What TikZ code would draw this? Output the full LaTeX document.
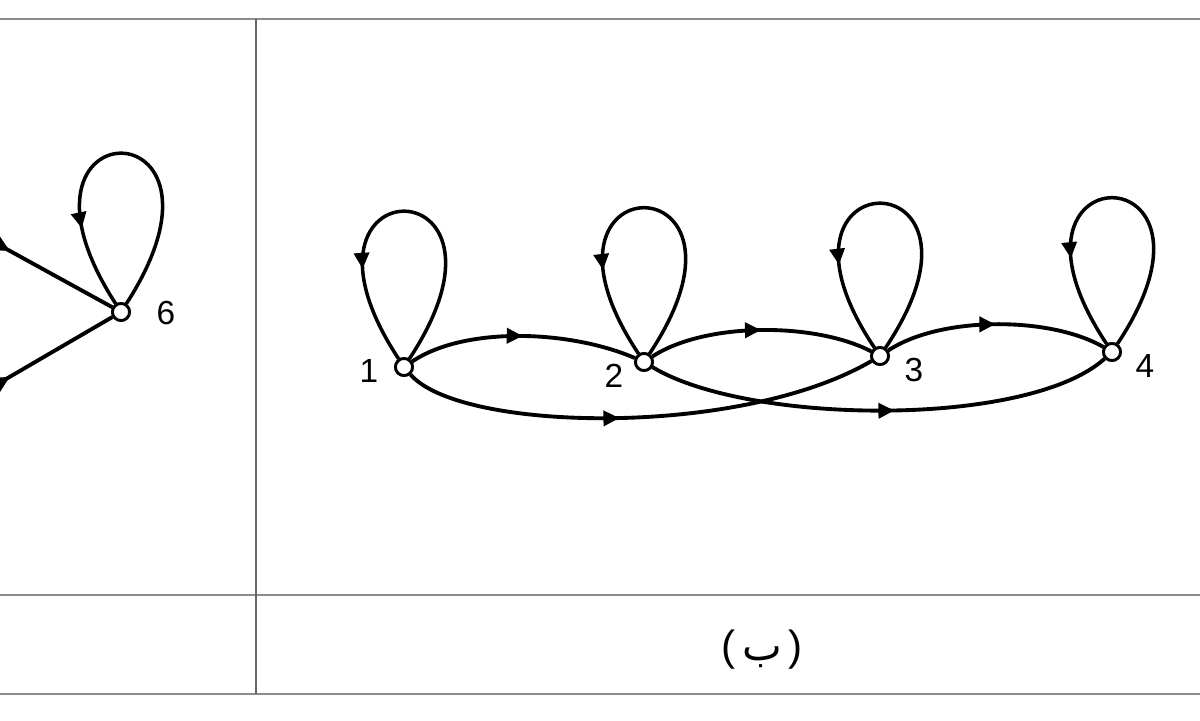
\documentclass[tikz,border=0pt]{standalone}
\usepackage{fontspec}
\setmainfont{Liberation Sans}
\newfontfamily\arabicfont[Script=Arabic]{DejaVu Sans}
\TeXXeTstate=1
\usetikzlibrary{arrows.meta,decorations.markings}
\begin{document}
\begin{tikzpicture}[x=0.02cm,y=-0.02cm,
  vtx/.style={circle,draw,fill=white,line width=1.6pt,inner sep=0pt,minimum size=0.34cm},
  edge/.style={line width=2.2pt},
  loopedge/.style={line width=2pt},
  midarrow/.style={postaction={decorate},decoration={markings,mark=at position #1 with {\arrow{Triangle[length=0.32cm,width=0.3cm]}}}},
  lbl/.style={font=\fontsize{19}{21}\selectfont,inner sep=0pt},
  framel/.style={draw=black!45,line width=1.4pt},
  vframel/.style={draw=black!60,line width=1.2pt}]
\useasboundingbox (0,0) rectangle (1200,720);
\clip (0,0) rectangle (1200,720);
\fill[white] (0,0) rectangle (1200,720);
% frame
\draw[framel] (0,19) -- (1200,19);
\draw[framel] (0,595) -- (1200,595);
\draw[framel] (0,694) -- (1200,694);
\draw[vframel] (256,19) -- (256,694);
% nodes
\node[vtx] (n6) at (121,312) {};
\node[vtx] (n1) at (404,367) {};
\node[vtx] (n2) at (644,362) {};
\node[vtx] (n3) at (880,356) {};
\node[vtx] (n4) at (1112,352) {};
\node[lbl] (t6) at (166,313) {6};
\node[lbl] (t1) at (369,371) {1};
\node[lbl] (t2) at (614,376) {2};
\node[lbl] (t3) at (914,370) {3};
\node[lbl] (t4) at (1145,366) {4};
% left partial edges
\coordinate (l1) at (-30,229);
\coordinate (l2) at (-30,400);
\draw[edge,midarrow=0.28] (l1) -- (n6);
\draw[edge,midarrow=0.28] (l2) -- (n6);
% loops
\draw[loopedge,midarrow=0.77] (n6) .. controls +(135,-209) and +(-135,-209) .. (n6);
\draw[loopedge,midarrow=0.725] (n1) .. controls +(135,-205) and +(-135,-205) .. (n1);
\draw[loopedge,midarrow=0.74] (n2) .. controls +(135,-203) and +(-135,-203) .. (n2);
\draw[loopedge,midarrow=0.74] (n3) .. controls +(135,-201) and +(-135,-201) .. (n3);
\draw[loopedge,midarrow=0.735] (n4) .. controls +(135,-203) and +(-135,-203) .. (n4);
% upper arcs
\draw[edge,midarrow=0.5] (n1) .. controls (465,326) and (570,330) .. (n2);
\draw[edge,midarrow=0.5] (n2) .. controls (705,322) and (815,322) .. (n3);
\draw[edge,midarrow=0.5] (n3) .. controls (940,316) and (1050,316) .. (n4);
% lower arcs
\draw[edge,midarrow=0.455] (n1) .. controls (460,432) and (740,438) .. (n3);
\draw[edge,midarrow=0.53] (n2) .. controls (748,425) and (1028,428) .. (n4);
% redraw circles on top
\foreach \n in {n6,n1,n2,n3,n4} \fill[white,draw=black,line width=1.6pt] (\n) circle (0.17cm);
% caption
\node[font=\fontsize{24}{26}\selectfont] (cap) at (762,650) {(\,{\arabicfont\beginR ب\endR}\,)};
\end{tikzpicture}
\end{document}
